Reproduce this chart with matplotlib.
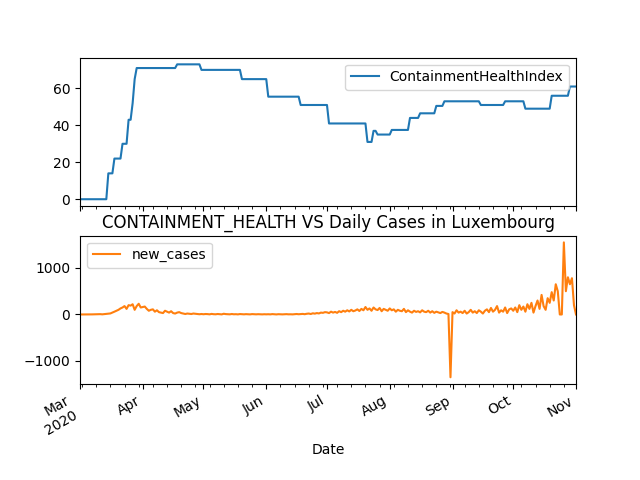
import matplotlib
matplotlib.use("Agg")
import matplotlib.pyplot as plt
import pandas as pd

dates = pd.date_range("2020-03-01", "2020-11-01", freq="D")

# containment index: (start date, value) steps
steps = [("2020-03-01", 0), ("2020-03-15", 14), ("2020-03-18", 22), ("2020-03-22", 30),
         ("2020-03-25", 43), ("2020-03-27", 52), ("2020-03-28", 65), ("2020-03-29", 71),
         ("2020-04-18", 73), ("2020-04-30", 70), ("2020-05-20", 65), ("2020-06-02", 55.5),
         ("2020-06-18", 51), ("2020-07-02", 41), ("2020-07-21", 31), ("2020-07-24", 37),
         ("2020-07-26", 35), ("2020-08-02", 37.5), ("2020-08-11", 44), ("2020-08-16", 46.5),
         ("2020-08-24", 50.5), ("2020-08-28", 53), ("2020-09-15", 51), ("2020-09-27", 53),
         ("2020-10-07", 49), ("2020-10-20", 56), ("2020-10-29", 61)]

mar = [0,0,0,0,1,1,2,3,2,5,7,3,8,15,20,22,40,60,80,100,130,150,180,120,200,190,220,100,180,230,150]
apr = [160,170,120,80,100,110,60,90,50,40,30,80,60,40,70,30,20,40,50,30,20,10,20,15,10,20,15,10,5,10]
may = [5,10,8,3,12,6,4,10,7,2,15,8,5,3,10,4,6,2,9,5,3,7,4,2,8,5,3,6,4,2,5]
jun = [3,5,2,8,4,1,6,3,2,5,7,3,4,2,6,10,5,8,12,6,15,20,10,25,18,30,22,40,35,50]
jul = [45,30,60,40,55,35,70,50,80,60,90,65,100,70,85,110,75,120,90,160,100,130,80,150,110,95,140,70,120,100,80]
aug = [130,90,110,60,100,80,70,120,50,90,60,40,80,55,70,45,90,60,50,80,40,70,35,60,45,30,55,40,20,10,-1350]
sep = [50,20,90,40,60,30,80,20,50,100,40,70,30,90,60,20,80,110,50,140,60,100,180,40,90,60,150,30,110,130]
octo = [80,150,50,200,100,170,60,220,120,250,40,180,300,120,420,180,100,350,250,480,300,650,500,0,0,1550,500,800,650,780,200]
nov = [0]
new_cases = mar + apr + may + jun + jul + aug + sep + octo + nov

ch = pd.Series([v for d, v in steps], index=pd.to_datetime([d for d, v in steps]))
ch = ch.reindex(dates).ffill()
df = pd.DataFrame({"ContainmentHealthIndex": ch.values, "new_cases": new_cases}, index=dates)
df.index.name = "Date"

axes = df.plot(subplots=True, figsize=(6.4, 4.8))
fig = axes[0].figure
axes[0].legend(loc="upper right")
axes[1].legend(loc="upper left")
axes[1].set_title("CONTAINMENT_HEALTH VS Daily Cases in Luxembourg")
fig.autofmt_xdate()
fig.savefig("out.png", dpi=100)
